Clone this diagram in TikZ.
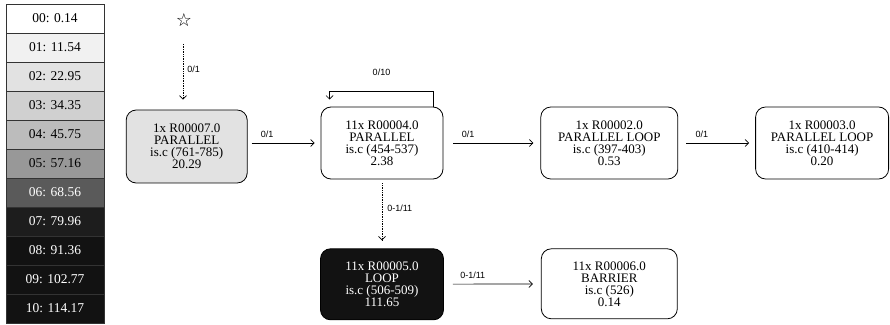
\documentclass[tikz,border=0pt]{standalone}
\usepackage{fontspec}
\setmainfont{Liberation Serif}
\newfontfamily\lblfont{Liberation Sans}
\newfontfamily\symfont{DejaVu Sans}
\usetikzlibrary{arrows.meta,positioning}

\definecolor{g00}{HTML}{FFFFFF}
\definecolor{g01}{HTML}{F1F1F1}
\definecolor{g02}{HTML}{E2E2E2}
\definecolor{g03}{HTML}{D0D0D0}
\definecolor{g04}{HTML}{BCBCBC}
\definecolor{g05}{HTML}{989898}
\definecolor{g06}{HTML}{5A5A5A}
\definecolor{g07}{HTML}{1D1D1D}
\definecolor{g08}{HTML}{121212}

\begin{document}
\begin{tikzpicture}
[->,>={Straight Barb[length=3.5pt,width=7pt]}, x=1pt, y=1pt,
line width=0.7pt, shorten >=7pt, shorten <=6pt,
region/.style={draw, line width=0.8pt, rounded corners=10pt, align=center,
  minimum height=72pt, inner sep=2pt, font=\fontsize{13}{12}\selectfont},
legend/.style={draw=black!80, line width=0.8pt, minimum width=98pt,
  minimum height=29pt, outer sep=0pt, font=\fontsize{13.5}{14}\selectfont},
lbl/.style={font=\lblfont\fontsize{9}{10}\selectfont, inner sep=1pt},
trace/.style={densely dotted}
]
  \useasboundingbox (0,0) rectangle (890,324);

  % legend
  \node[legend, fill=g00]              (l00) at (55,305.5) {00: 0.14};
  \node[legend, fill=g01]              (l01) [below=0pt of l00] {01: 11.54};
  \node[legend, fill=g02]              (l02) [below=0pt of l01] {02: 22.95};
  \node[legend, fill=g03]              (l03) [below=0pt of l02] {03: 34.35};
  \node[legend, fill=g04]              (l04) [below=0pt of l03] {04: 45.75};
  \node[legend, fill=g05]              (l05) [below=0pt of l04] {05: 57.16};
  \node[legend, fill=g06, text=white]  (l06) [below=0pt of l05] {06: 68.56};
  \node[legend, fill=g07, text=white]  (l07) [below=0pt of l06] {07: 79.96};
  \node[legend, fill=g08, text=white]  (l08) [below=0pt of l07] {08: 91.36};
  \node[legend, fill=g08, text=white]  (l09) [below=0pt of l08] {09: 102.77};
  \node[legend, fill=g08, text=white]  (l10) [below=0pt of l09] {10: 114.17};

  % regions
  \node[inner sep=0pt, font=\symfont\fontsize{18}{18}\selectfont] (start) at (184,304) {☆};
  \node[region, minimum width=122pt] (b) at (382,181) {11x R00004.0\\PARALLEL\\is.c (454-537)\\2.38};
  \node[region, minimum width=121pt, minimum height=73pt, fill=g02] (a) [left=73pt of b, yshift=-3.5pt] {1x R00007.0\\PARALLEL\\is.c (761-785)\\20.29};
  \node[region, minimum width=137pt] (c) [right=97pt of b] {1x R00002.0\\PARALLEL LOOP\\is.c (397-403)\\0.53};
  \node[region, minimum width=133pt] (d) [right=77pt of c] {1x R00003.0\\PARALLEL LOOP\\is.c (410-414)\\0.20};
  \node[region, minimum width=123pt, minimum height=71pt, fill=g08, text=white] (e) [below=69pt of b] {11x R00005.0\\LOOP\\is.c (506-509)\\111.65};
  \node[region, minimum width=136pt, minimum height=70pt] (f) [right=97pt of e, yshift=0.5pt] {11x R00006.0\\BARRIER\\is.c (526)\\0.14};

  \draw[trace, shorten <=24pt, shorten >=10pt] ([xshift=-1pt]start.center) -- ([xshift=-1pt]start.center |- a.north)
    node[lbl, pos=0.55, anchor=west, xshift=3pt] {0/1};
  \draw[shorten <=4pt, shorten >=6pt] (a.east |- b.west) -- (b.west)
    node[lbl, pos=0, anchor=south west, xshift=12pt, yshift=4pt] {0/1};
  \draw[shorten <=0pt] ([xshift=-10pt]b.north east) -- ++(0,15) -| ([xshift=9pt]b.north west)
    node[lbl, pos=0.25, anchor=south, yshift=15pt] {0/10};
  \draw[shorten <=10pt] (b) -- (c)
    node[lbl, pos=0, anchor=south west, xshift=17pt, yshift=4pt] {0/1};
  \draw[shorten <=8pt, shorten >=6pt] (c) -- (d)
    node[lbl, pos=0, anchor=south west, xshift=16pt, yshift=4pt] {0/1};
  \draw[trace, shorten <=4pt, shorten >=8pt] (b) -- (e)
    node[lbl, pos=0.42, anchor=west, xshift=4pt] {0-1/11};
  \draw[shorten <=9pt, shorten >=8pt] (e) -- (f)
    node[lbl, pos=0, anchor=south west, xshift=15pt, yshift=4pt] {0-1/11};
\end{tikzpicture}
\end{document}
